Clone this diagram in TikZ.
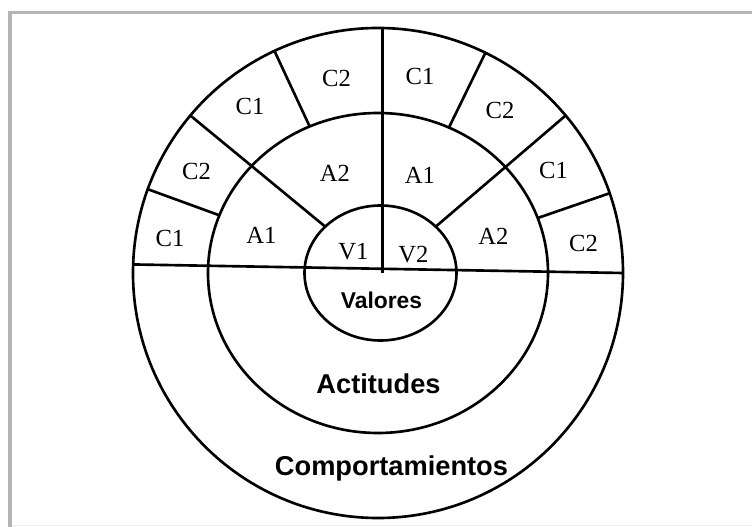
\documentclass[tikz,border=0pt]{standalone}
\usepackage{fontspec}
\setmainfont{Liberation Serif}
\setsansfont{Liberation Sans}
\usetikzlibrary{shapes.geometric}
\definecolor{framegray}{HTML}{B4B4B4}
\definecolor{framefaint}{HTML}{EBEBEB}

\begin{document}
\begin{tikzpicture}[
    ring/.style={ellipse, draw=black, line width=1.5pt, inner sep=0pt,
                 outer sep=0pt},
    divider/.style={draw=black, line width=1.5pt},
    seglbl/.style={font=\fontsize{14}{16}\selectfont, inner sep=1pt},
    zonelbl/.style={font=\sffamily\bfseries\fontsize{15.5}{18}\selectfont,
                    inner sep=1pt},
]

% ── Canvas and frame ────────────────────────────────────────────
\useasboundingbox (-7.56,-5.08) rectangle (7.48,5.46);
\draw[framefaint, line width=1pt] (-7.36,-5.05) -- (7.48,-5.05);
\draw[framegray, line width=1.8pt] (-7.36,-5.08) -- (-7.36,5.21) -- (7.48,5.21);

% ── Nested rings ────────────────────────────────────────────────
\node[ring, minimum width=9.8cm, minimum height=9.8cm] (comp) at (0,0) {};
\node[ring, minimum width=6.8cm, minimum height=6.4cm] (act) at (0,0) {};
\node[ring, minimum width=3.04cm, minimum height=2.7cm] (val) at (0.05,0) {};

% ── Dividing lines ──────────────────────────────────────────────
\draw[divider] (comp.178.6) -- (comp.0);
\draw[divider] (comp.89) -- (comp.89 |- val.center);

% attitude splits, from the values ring outwards
\foreach \a in {40,140}{
  \draw[divider] (val.\a) -- (comp.\a);
}

% behaviour splits, only in the outer ring
\foreach \a in {19,64,115,160}{
  \draw[divider] (act.\a) -- (comp.\a);
}

% ── Behaviour labels ────────────────────────────────────────────
\node[seglbl] (cl1) at (-4.16,0.70) {C1};
\node[seglbl] (cl2) at (-3.63,2.03) {C2};
\node[seglbl] (cl3) at (-2.56,3.34) {C1};
\node[seglbl] (cl4) at (-0.83,3.89) {C2};
\node[seglbl] (cr1) at (0.84,3.93) {C1};
\node[seglbl] (cr2) at (2.44,3.26) {C2};
\node[seglbl] (cr3) at (3.51,2.06) {C1};
\node[seglbl] (cr4) at (4.11,0.59) {C2};

% ── Attitude labels ─────────────────────────────────────────────
\node[seglbl] (al1) at (-2.33,0.76) {A1};
\node[seglbl] (al2) at (-0.86,1.99) {A2};
\node[seglbl] (ar1) at (0.84,1.96) {A1};
\node[seglbl] (ar2) at (2.31,0.73) {A2};

% ── Value labels ────────────────────────────────────────────────
\node[seglbl] (v1) at (-0.49,0.43) {V1};
\node[seglbl] (v2) at (0.71,0.36) {V2};

% ── Ring names ──────────────────────────────────────────────────
\node[zonelbl, font=\sffamily\bfseries\fontsize{13}{15}\selectfont]
  (valname) at (0.07,-0.54) {Valores};
\node[zonelbl] (actname) at (0.01,-2.21) {Actitudes};
\node[zonelbl] (compname) at (0.27,-3.91) {Comportamientos};

\end{tikzpicture}
\end{document}
